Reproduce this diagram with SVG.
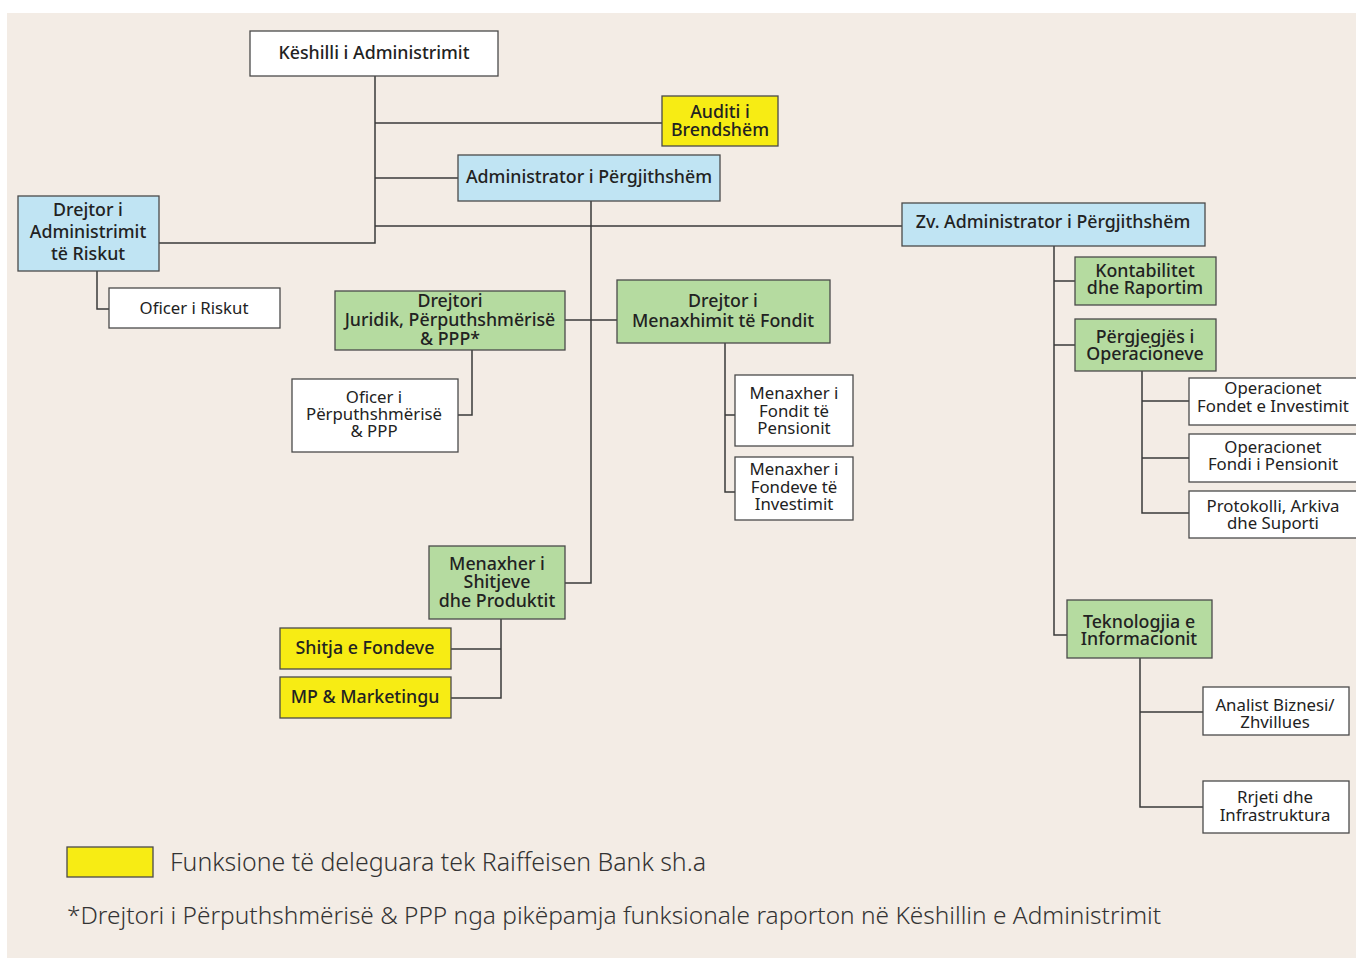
<svg xmlns="http://www.w3.org/2000/svg" width="1356" height="958" viewBox="0 0 1356 958">
<style>
.bx{stroke:#4a4a4a;stroke-width:1.3}
.w{fill:#ffffff}.b{fill:#c0e4f3}.g{fill:#b5dba0}.y{fill:#f7ec14}
.t{font-family:"Noto Sans","Liberation Sans",sans-serif;font-size:16.8px;fill:#222;text-anchor:middle}
.m{font-weight:500;font-size:17.8px}
.c{fill:none;stroke:#3a3a3a;stroke-width:1.5}
.lg{font-family:"Noto Sans","Liberation Sans",sans-serif;font-size:24.9px;fill:#333;font-weight:300}
.fn{font-size:24.45px}
</style>
<rect x="0" y="0" width="1356" height="958" fill="#ffffff"/>
<rect x="7" y="13" width="1349" height="945" fill="#f3ece5"/>
<g id="connectors" class="c">
<path d="M375 76V243H159"/>
<path d="M375 123H662"/>
<path d="M375 178H458"/>
<path d="M375 226H902"/>
<path d="M97 271V309H109"/>
<path d="M591 201V583H565"/>
<path d="M565 320H617"/>
<path d="M472 350V415H458"/>
<path d="M725 343V492H735M725 415H735"/>
<path d="M501 619V698H451M501 649H451"/>
<path d="M1054 246V635H1067M1054 281H1075M1054 345H1075"/>
<path d="M1142 371V513H1189M1142 401H1189M1142 458H1189"/>
<path d="M1140 658V807H1203M1140 712H1203"/>
</g>
<g id="keshilli"><rect class="bx w" x="250" y="31" width="248" height="45"/><text class="t m" x="374" y="59">Këshilli i Administrimit</text></g>
<g id="auditi"><rect class="bx y" x="662" y="96" width="116" height="50"/><text class="t m" x="720" y="118">Auditi i</text><text class="t m" x="720" y="136">Brendshëm</text></g>
<g id="administrator"><rect class="bx b" x="458" y="155" width="262" height="46"/><text class="t m" x="589" y="183">Administrator i Përgjithshëm</text></g>
<g id="drejtor-riskut"><rect class="bx b" x="18" y="196" width="141" height="75"/><text class="t m" x="88" y="216">Drejtor i</text><text class="t m" x="88" y="238">Administrimit</text><text class="t m" x="88" y="260">të Riskut</text></g>
<g id="oficer-riskut"><rect class="bx w" x="109" y="288" width="171" height="40"/><text class="t" x="194" y="314">Oficer i Riskut</text></g>
<g id="drejtori-juridik"><rect class="bx g" x="335" y="291" width="230" height="59"/><text class="t m" x="450" y="307">Drejtori</text><text class="t m" x="450" y="326">Juridik, Përputhshmërisë</text><text class="t m" x="450" y="345">&amp; PPP*</text></g>
<g id="oficer-perputh"><rect class="bx w" x="292" y="379" width="166" height="73"/><text class="t" x="374" y="403">Oficer i</text><text class="t" x="374" y="420">Përputhshmërisë</text><text class="t" x="374" y="437">&amp; PPP</text></g>
<g id="drejtor-fondit"><rect class="bx g" x="617" y="280" width="213" height="63"/><text class="t m" x="723" y="307">Drejtor i</text><text class="t m" x="723" y="327">Menaxhimit të Fondit</text></g>
<g id="menaxher-pension"><rect class="bx w" x="735" y="375" width="118" height="71"/><text class="t" x="794" y="399">Menaxher i</text><text class="t" x="794" y="417">Fondit të</text><text class="t" x="794" y="434">Pensionit</text></g>
<g id="menaxher-invest"><rect class="bx w" x="735" y="457" width="118" height="63"/><text class="t" x="794" y="475">Menaxher i</text><text class="t" x="794" y="493">Fondeve të</text><text class="t" x="794" y="510">Investimit</text></g>
<g id="menaxher-shitjeve"><rect class="bx g" x="429" y="546" width="136" height="73"/><text class="t m" x="497" y="570">Menaxher i</text><text class="t m" x="497" y="588">Shitjeve</text><text class="t m" x="497" y="607">dhe Produktit</text></g>
<g id="shitja"><rect class="bx y" x="280" y="628" width="171" height="41"/><text class="t m" x="365" y="654">Shitja e Fondeve</text></g>
<g id="marketing"><rect class="bx y" x="280" y="677" width="171" height="41"/><text class="t m" x="365" y="703">MP &amp; Marketingu</text></g>
<g id="zv-admin"><rect class="bx b" x="902" y="203" width="303" height="43"/><text class="t m" x="1053" y="228">Zv. Administrator i Përgjithshëm</text></g>
<g id="kontabilitet"><rect class="bx g" x="1075" y="257" width="141" height="48"/><text class="t m" x="1145" y="277">Kontabilitet</text><text class="t m" x="1145" y="294">dhe Raportim</text></g>
<g id="pergjegjes"><rect class="bx g" x="1075" y="319" width="141" height="52"/><text class="t m" x="1145" y="343">Përgjegjës i</text><text class="t m" x="1145" y="360">Operacioneve</text></g>
<g id="op-invest"><rect class="bx w" x="1189" y="378" width="175" height="47"/><text class="t" x="1273" y="394">Operacionet</text><text class="t" x="1273" y="412">Fondet e Investimit</text></g>
<g id="op-pension"><rect class="bx w" x="1189" y="434" width="175" height="48"/><text class="t" x="1273" y="453">Operacionet</text><text class="t" x="1273" y="470">Fondi i Pensionit</text></g>
<g id="protokolli"><rect class="bx w" x="1189" y="491" width="175" height="47"/><text class="t" x="1273" y="512">Protokolli, Arkiva</text><text class="t" x="1273" y="529">dhe Suporti</text></g>
<g id="teknologjia"><rect class="bx g" x="1067" y="600" width="145" height="58"/><text class="t m" x="1139" y="628">Teknologjia e</text><text class="t m" x="1139" y="645">Informacionit</text></g>
<g id="analist"><rect class="bx w" x="1203" y="687" width="146" height="48"/><text class="t" x="1275" y="711">Analist Biznesi/</text><text class="t" x="1275" y="728">Zhvillues</text></g>
<g id="rrjeti"><rect class="bx w" x="1203" y="781" width="146" height="52"/><text class="t" x="1275" y="803">Rrjeti dhe</text><text class="t" x="1275" y="821">Infrastruktura</text></g>
<g id="legend"><rect class="bx y" x="67" y="847" width="86" height="30"/><text class="lg" x="170" y="871">Funksione të deleguara tek Raiffeisen Bank sh.a</text><text class="lg fn" x="67" y="924">*Drejtori i Përputhshmërisë &amp; PPP nga pikëpamja funksionale raporton në Këshillin e Administrimit</text></g>
</svg>
